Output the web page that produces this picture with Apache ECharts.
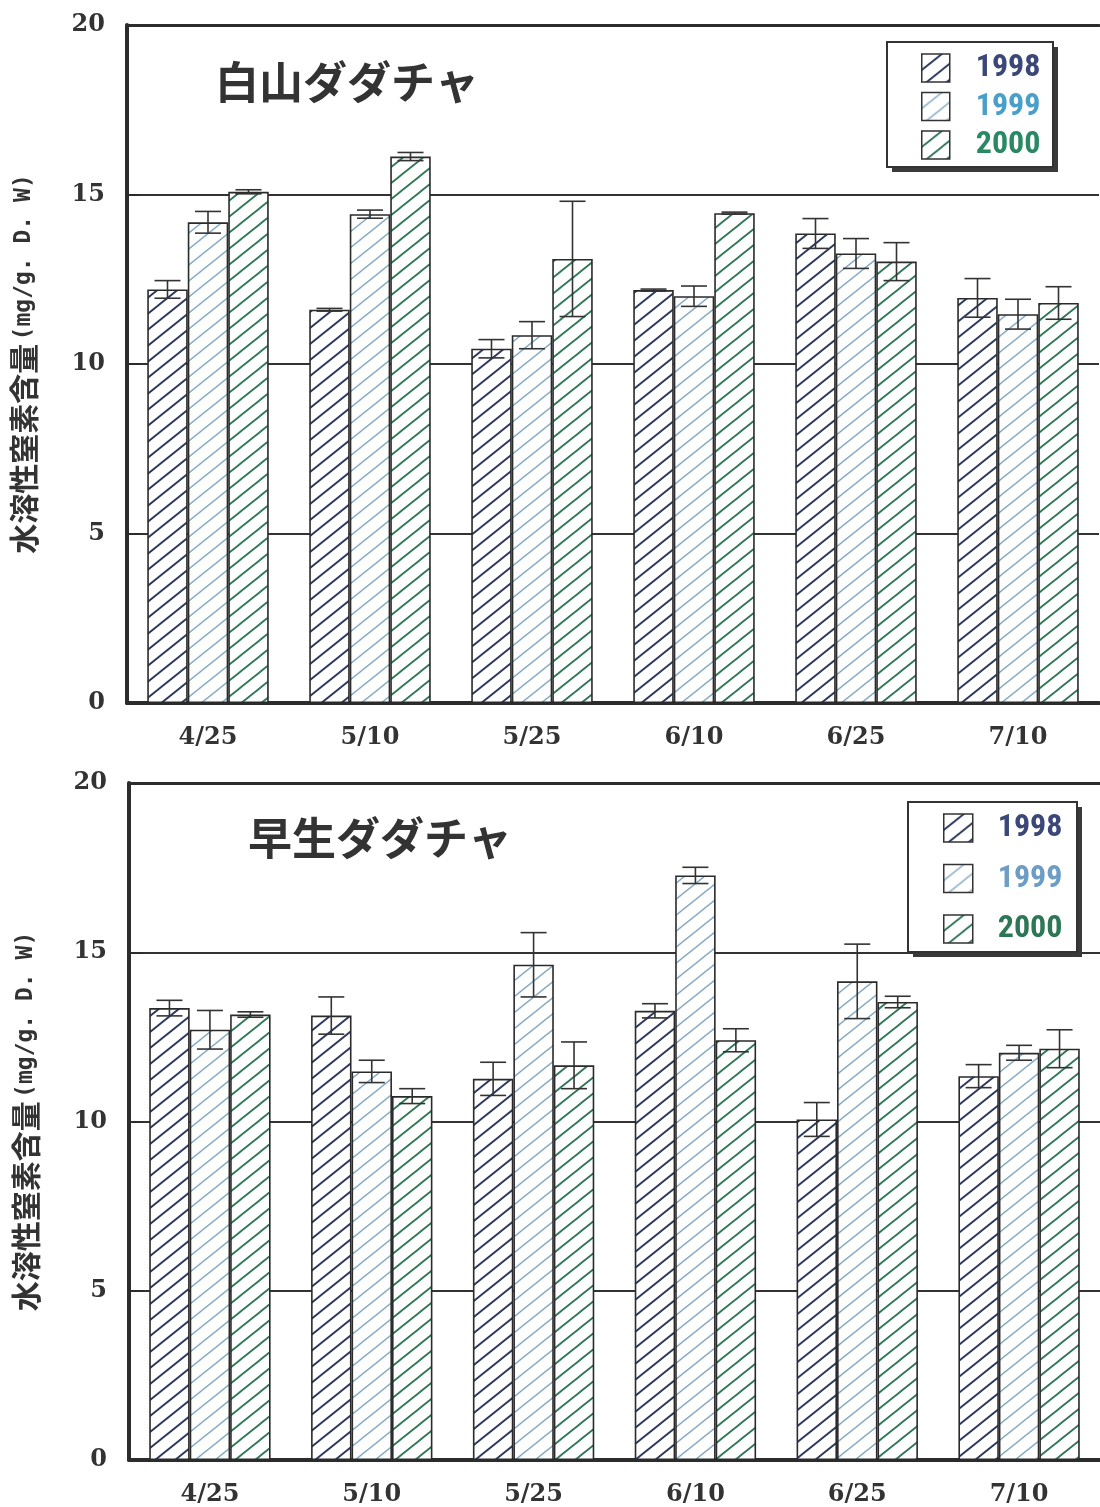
<!DOCTYPE html>
<html>
<head>
<meta charset="utf-8">
<script src="https://cdn.jsdelivr.net/npm/echarts@6/dist/echarts.min.js"></script>
<style>html,body{margin:0;padding:0;background:#fff;}#c{width:1100px;height:1507px;}</style>
</head>
<body>
<div id="c"></div>
<script>
// ---- data ----
const categories = ['4/25', '5/10', '5/25', '6/10', '6/25', '7/10'];
const years = ['1998', '1999', '2000'];
// 白山ダダチャ
const hakusan1998 = [12.2, 11.6, 10.45, 12.18, 13.85, 11.95];
const hakusan1999 = [14.18, 14.42, 10.85, 12.0, 13.26, 11.47];
const hakusan2000 = [15.08, 16.12, 13.1, 14.45, 13.02, 11.8];
const hakusanErr1998 = [0.26, 0.04, 0.27, 0.03, 0.44, 0.57];
const hakusanErr1999 = [0.32, 0.12, 0.4, 0.3, 0.44, 0.44];
const hakusanErr2000 = [0.06, 0.12, 1.7, 0.03, 0.56, 0.48];
// 早生ダダチャ
const wase1998 = [13.35, 13.13, 11.26, 13.27, 10.06, 11.34];
const wase1999 = [12.71, 11.48, 14.63, 17.27, 14.14, 12.03];
const wase2000 = [13.16, 10.75, 11.66, 12.4, 13.53, 12.15];
const waseErr1998 = [0.23, 0.55, 0.49, 0.21, 0.5, 0.34];
const waseErr1999 = [0.57, 0.33, 0.95, 0.24, 1.1, 0.22];
const waseErr2000 = [0.08, 0.22, 0.69, 0.34, 0.17, 0.56];
const yTicks = [0, 5, 10, 15, 20];
const titles = ['白山ダダチャ', '早生ダダチャ'];
const yName = '水溶性窒素含量';
const yUnit = '(mg/g. D. W)';

// ---- styles ----
const hatchColors = ['#2c375e', '#86aac4', '#2e7656'];
const hatchWidths = [1.9, 1.4, 1.8];
const legendTextTop = ['#3a4778', '#4a9fc8', '#2a8864'];
const legendTextBottom = ['#3a4778', '#6d9cc4', '#2d7656'];
const ink = '#2c2c2c';

function hatch(color, lw) {
  const w = 20, h = 16;
  const c = document.createElement('canvas');
  c.width = w; c.height = h;
  const g = c.getContext('2d');
  g.fillStyle = '#ffffff';
  g.fillRect(0, 0, w, h);
  g.strokeStyle = color;
  g.lineWidth = lw;
  [0, 1, 2].forEach(k => {
    const K = k * w * h;
    g.beginPath();
    g.moveTo(-w, (K + h * w) / w);
    g.lineTo(2 * w, (K - 2 * h * w) / w);
    g.stroke();
  });
  return { image: c, repeat: 'repeat' };
}
const patterns = hatchColors.map((c, i) => hatch(c, hatchWidths[i]));

const panels = [
  { top: 25, left: 127, values: [hakusan1998, hakusan1999, hakusan2000], errs: [hakusanErr1998, hakusanErr1999, hakusanErr2000] },
  { top: 783, left: 129, values: [wase1998, wase1999, wase2000], errs: [waseErr1998, waseErr1999, waseErr2000] }
];
const plotH = 678, plotW = 972;

function legendBox(x, y, w, h) {
  return [
    { type: 'rect', z: 20, shape: { x: x + 5, y: y + 5, width: w, height: h }, style: { fill: '#3a3a3a' } },
    { type: 'rect', z: 21, shape: { x: x, y: y, width: w, height: h }, style: { fill: '#ffffff', stroke: '#333', lineWidth: 2 } }
  ];
}

const option = {
  animation: false,
  backgroundColor: '#ffffff',
  graphic: legendBox(887, 42, 166, 125).concat(legendBox(908, 802, 169, 150)),
  title: [
    { text: titles[0], left: 210, top: 55, textStyle: { fontFamily: 'Noto Sans CJK JP', fontWeight: 'bold', fontSize: 44, color: '#333' } },
    { text: titles[1], left: 243, top: 811, textStyle: { fontFamily: 'Noto Sans CJK JP', fontWeight: 'bold', fontSize: 44, color: '#333' } }
  ],
  legend: [
    {
      left: 921, top: 52, orient: 'vertical', z: 30,
      padding: 0, itemGap: 6.5, itemWidth: 28, itemHeight: 28, icon: 'rect',
      itemStyle: { borderColor: '#333', borderWidth: 1.5 },
      textStyle: { fontFamily: 'Liberation Sans Narrow, Roboto Condensed, Roboto', fontWeight: 'bold', fontSize: 32, padding: [0, 0, 0, 21] },
      data: years.map((y, i) => ({ name: y, textStyle: { color: legendTextTop[i] } }))
    },
    {
      left: 943, top: 812, orient: 'vertical', z: 30,
      padding: 0, itemGap: 18.5, itemWidth: 29, itemHeight: 28, icon: 'rect',
      itemStyle: { borderColor: '#333', borderWidth: 1.5 },
      textStyle: { fontFamily: 'Liberation Sans Narrow, Roboto Condensed, Roboto', fontWeight: 'bold', fontSize: 32, padding: [0, 0, 0, 20] },
      data: years.map((y, i) => ({ name: y, textStyle: { color: legendTextBottom[i] } }))
    }
  ],
  grid: panels.map(p => ({ left: p.left, top: p.top, width: plotW, height: plotH })),
  xAxis: [],
  yAxis: [],
  series: []
};

panels.forEach((p, gi) => {
  option.xAxis.push({
    type: 'category', gridIndex: gi, data: categories, position: 'bottom',
    axisLine: { lineStyle: { color: ink, width: 4 } },
    axisTick: { inside: true, length: 8, lineStyle: { color: ink, width: 2.5 } },
    axisLabel: { margin: 23, fontFamily: 'DejaVu Serif', fontWeight: 'bold', fontSize: 24, color: '#333' }
  });
  option.xAxis.push({
    type: 'category', gridIndex: gi, data: categories, position: 'top',
    axisLine: { lineStyle: { color: ink, width: 3 } },
    axisTick: { inside: true, length: 8, lineStyle: { color: ink, width: 2.5 } },
    axisLabel: { show: false }
  });
  option.yAxis.push({
    type: 'value', gridIndex: gi, min: yTicks[0], max: yTicks[yTicks.length - 1], interval: yTicks[1] - yTicks[0],
    axisLine: { show: true, lineStyle: { color: ink, width: 4 } },
    axisTick: { show: true, inside: true, length: 14, lineStyle: { color: ink, width: 2 } },
    axisLabel: { margin: 22, padding: [5, 0, 0, 0], fontFamily: 'DejaVu Serif', fontWeight: 'bold', fontSize: 24, color: '#333' },
    splitLine: { show: true, lineStyle: { color: '#333', width: 2 } },
    name: '{a|' + yName + '} {b|' + yUnit + '}',
    nameLocation: 'middle', nameRotate: 90, nameGap: 88,
    nameTextStyle: {
      padding: [0, 0, 0, 0],
      rich: {
        a: { fontFamily: 'Noto Sans CJK JP', fontWeight: 'bold', fontSize: 30, color: '#333' },
        b: { fontFamily: 'DejaVu Sans Mono', fontWeight: 'bold', fontSize: 23, color: '#333' }
      }
    }
  });
  years.forEach((y, k) => {
    option.series.push({
      type: 'bar', name: y, xAxisIndex: gi * 2, yAxisIndex: gi,
      data: p.values[k], barGap: '0%', barCategoryGap: '25%',
      itemStyle: { color: patterns[k], borderColor: '#2a2a2a', borderWidth: 1.6 },
      z: 3
    });
  });
  years.forEach((y, k) => {
    option.series.push({
      type: 'custom', name: y, xAxisIndex: gi * 2, yAxisIndex: gi, z: 5,
      data: categories.map((c, i) => [i, p.values[k][i], p.errs[k][i]]),
      renderItem: function (params, api) {
        const x = api.value(0), v = api.value(1), e = api.value(2);
        const band = api.size([1, 0])[0];
        const bw = band * 0.75 / 3;
        const off = (k - 1) * bw;
        const t = api.coord([x, v + e]);
        const b = api.coord([x, v - e]);
        const cx = t[0] + off;
        const hw = 13;
        const st = { stroke: '#333', lineWidth: 1.6 };
        return {
          type: 'group',
          children: [
            { type: 'line', shape: { x1: cx, y1: t[1], x2: cx, y2: b[1] }, style: st },
            { type: 'line', shape: { x1: cx - hw, y1: t[1], x2: cx + hw, y2: t[1] }, style: st },
            { type: 'line', shape: { x1: cx - hw, y1: b[1], x2: cx + hw, y2: b[1] }, style: st }
          ]
        };
      }
    });
  });
});

const chart = echarts.init(document.getElementById('c'), null, { renderer: 'canvas' });
chart.setOption(option);
</script>
</body>
</html>
